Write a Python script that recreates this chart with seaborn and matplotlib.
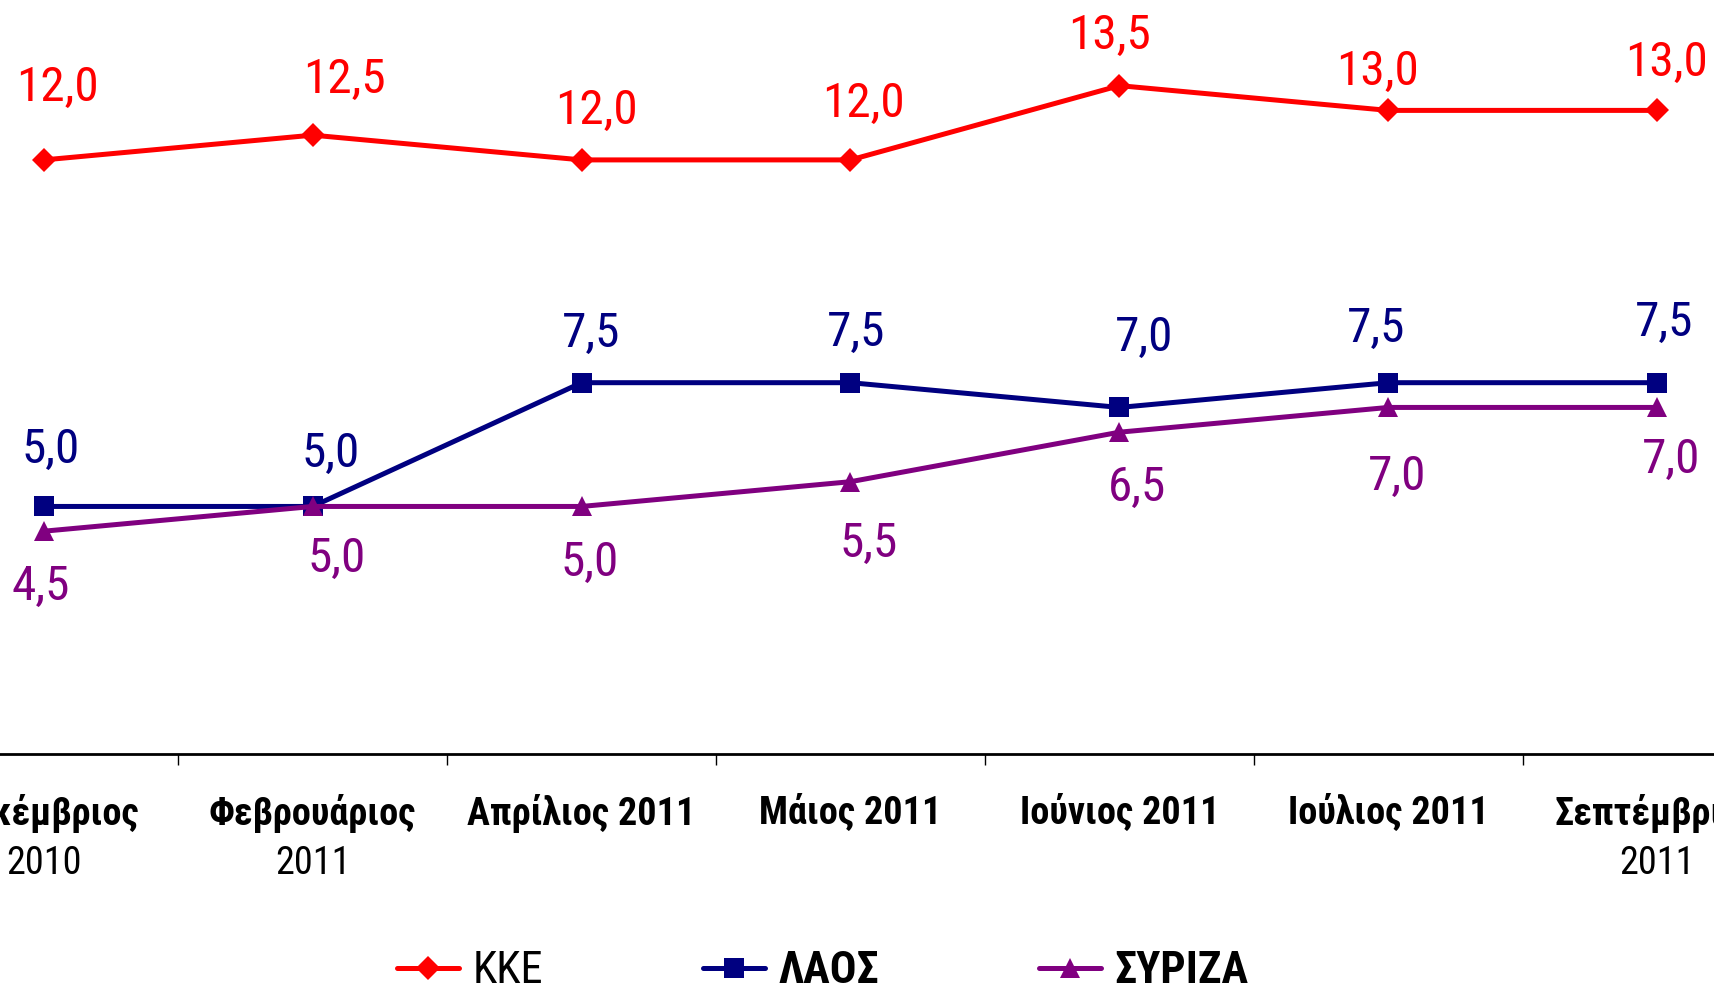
import pandas as pd
import matplotlib.pyplot as plt
import seaborn as sns
from matplotlib.lines import Line2D

# survey months (first line bold, second line regular)
months = ["Δεκέμβριος", "Φεβρουάριος", "Απρίλιος 2011", "Μάιος 2011",
          "Ιούνιος 2011", "Ιούλιος 2011", "Σεπτέμβριος"]
years = ["2010", "2011", "", "", "", "", "2011"]

kke = [12.0, 12.5, 12.0, 12.0, 13.5, 13.0, 13.0]
laos = [5.0, 5.0, 7.5, 7.5, 7.0, 7.5, 7.5]
syriza = [4.5, 5.0, 5.0, 5.5, 6.5, 7.0, 7.0]
parties = ["ΚΚΕ", "ΛΑΟΣ", "ΣΥΡΙΖΑ"]

colors = {"ΚΚΕ": "#FF0000", "ΛΑΟΣ": "#000080", "ΣΥΡΙΖΑ": "#800080"}
markers = {"ΚΚΕ": "D", "ΛΑΟΣ": "s", "ΣΥΡΙΖΑ": "^"}
msizes = {"ΚΚΕ": 12, "ΛΑΟΣ": 14, "ΣΥΡΙΖΑ": 15}

# label offsets in points, as placed in the original chart
offsets = {
    "ΚΚΕ": [(10, 52), (23, 40), (11, 35), (9, 40), (-7, 36), (-8, 28), (7, 34)],
    "ΛΑΟΣ": [(5, 41), (13, 38), (7, 35), (4, 36), (18, 50), (-9, 39), (5, 43)],
    "ΣΥΡΙΖΑ": [(-2, -40), (17, -38), (6, -41), (13, -45), (13, -40), (6, -50), (10, -38)],
}

df = pd.DataFrame({
    "month": months * 3,
    "value": kke + laos + syriza,
    "party": [p for p in parties for _ in months],
})

sns.set_style("white")
plt.rcParams["font.family"] = ["Roboto Condensed", "Fira Sans Condensed", "DejaVu Sans"]

fig = plt.figure(figsize=(17.14, 9.93), dpi=100)
ax = fig.add_axes([-0.0529, 0.2407, 1.0982, 0.7593])

for p in parties:
    sub = df[df["party"] == p]
    sns.lineplot(data=sub, x="month", y="value", color=colors[p], marker=markers[p],
                 markersize=msizes[p], markeredgewidth=0, linewidth=3.6,
                 sort=False, ax=ax, legend=False)
    for i, (v, off) in enumerate(zip(sub["value"], offsets[p])):
        ax.annotate(f"{v:.1f}".replace(".", ","), (i, v), xytext=off,
                    textcoords="offset points", ha="center", va="center",
                    fontsize=35.5, color=colors[p])

ax.set_xlim(-0.5, 6.5)
ax.set_ylim(0, 15.23)
ax.set_xlabel("")
ax.set_ylabel("")
ax.set_yticks([])
for s in ["top", "right", "left"]:
    ax.spines[s].set_visible(False)
ax.spines["bottom"].set_linewidth(2)
ax.spines["bottom"].set_color("black")

ax.set_xticks(range(len(months)))
ax.set_xticklabels(months, fontsize=27.5, fontweight="bold")
ax.set_xticks([i + 0.5 for i in range(-1, len(months))], minor=True)
ax.tick_params(axis="x", which="major", length=0, pad=29, colors="black")
ax.tick_params(axis="x", which="minor", length=8, width=1, direction="out",
               bottom=True, color="black")

for i, y in enumerate(years):
    if y:
        ax.annotate(y, (i, 0), xytext=(0, -79), textcoords="offset points",
                    ha="center", va="center", fontsize=27.5, color="black")

handles = [Line2D([], [], color=colors[p], marker=markers[p], markersize=msizes[p],
                  markeredgewidth=0, linewidth=3.6) for p in parties]
leg = fig.legend(handles, parties, loc="center", bbox_to_anchor=(0.48, 0.022),
                 ncol=3, frameon=False, fontsize=32, handlelength=1.4,
                 handletextpad=0.3, columnspacing=3.6, borderpad=0.1)
for t in leg.get_texts():
    t.set_color("black")
for t in leg.get_texts()[1:]:
    t.set_fontweight("bold")

fig.savefig("out.png", dpi=100)
